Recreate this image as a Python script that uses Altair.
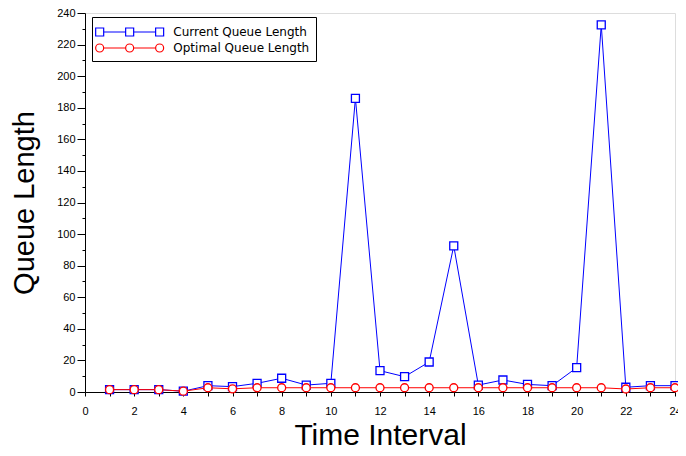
import altair as alt
import pandas as pd

time = list(range(1, 25))
current = [1.5, 1.5, 1.5, 0.5, 4, 3.4, 5.5, 8.7, 4.4, 5.5, 186, 13.5,
           9.7, 19, 92.5, 4.4, 7.6, 4.8, 4, 15.4, 232.5, 3, 4, 4]
optimal = [1.5, 1.5, 1.5, 0.5, 2.7, 2, 2.7, 2.7, 2.7, 2.7, 2.7, 2.7,
           2.7, 2.7, 2.7, 2.7, 2.7, 2.7, 2.7, 2.7, 2.7, 1.9, 2.7, 2.7]
series_names = ["Current Queue Length", "Optimal Queue Length"]
colors = ["#0000ff", "#ff0000"]

df = pd.DataFrame(
    {"t": time * 2,
     "v": current + optimal,
     "s": [series_names[0]] * 24 + [series_names[1]] * 24}
)

# legend glyphs: line with three markers (units scaled by sqrt(symbolSize)/2)
sq_path = ("M-3.11,0H-0.48M0.48,0H3.11"
           "M-4.07,-0.48H-3.11V0.48H-4.07Z"
           "M-0.48,-0.48H0.48V0.48H-0.48Z"
           "M3.11,-0.48H4.07V0.48H3.11Z")
ci_path = ("M-3.11,0H-0.48M0.48,0H3.11"
           "M-4.07,0a0.48,0.48 0 1,0 0.96,0a0.48,0.48 0 1,0 -0.96,0"
           "M-0.48,0a0.48,0.48 0 1,0 0.96,0a0.48,0.48 0 1,0 -0.96,0"
           "M3.11,0a0.48,0.48 0 1,0 0.96,0a0.48,0.48 0 1,0 -0.96,0")

xax = alt.Axis(values=list(range(0, 25)), labelExpr="datum.value % 2 === 0 ? datum.label : ''",
               title="Time Interval", grid=False, tickColor="black", domainColor="black",
               labelColor="black", labelFont="Liberation Sans", labelFontSize=11,
               titleFont="Liberation Sans", titleFontSize=30, titleFontWeight="normal",
               titlePadding=4, tickSize=4, labelPadding=9, labelFlush=False)
yax = alt.Axis(values=list(range(0, 241, 10)), labelExpr="datum.value % 20 === 0 ? datum.label : ''",
               title="Queue Length", grid=False, tickColor="black", domainColor="black",
               labelColor="black", labelFont="Liberation Sans", labelFontSize=11,
               titleFont="Liberation Sans", titleFontSize=29, titleFontWeight="normal",
               titlePadding=17,
               tickSize={"condition": {"test": "datum.value % 20 === 0", "value": 8}, "value": 3},
               labelPadding=2)

xs = alt.Scale(domain=[0, 24], nice=False)
ys = alt.Scale(domain=[0, 240], nice=False)

leg_common = dict(title=None, orient="none", legendX=7, legendY=4,
                  strokeColor="black", fillColor="white", padding=6,
                  labelFont="DejaVu Sans", labelFontSize=12,
                  labelColor="black", symbolSize=279, symbolStrokeWidth=1.2,
                  symbolFillColor="transparent", symbolOpacity=1,
                  symbolOffset=22.65, labelOffset=34.65, rowPadding=0)

base = alt.Chart(df).encode(
    x=alt.X("t:Q", scale=xs, axis=xax),
    y=alt.Y("v:Q", scale=ys, axis=yax),
)

layers = []
for name, col, shape in [(series_names[0], colors[0], "square"), (series_names[1], colors[1], "circle")]:
    d = base.transform_filter(alt.datum.s == name)
    layers.append(d.mark_line(strokeWidth=1, color=col))
    layers.append(d.mark_point(shape=shape, size=64, filled=True, fill="white",
                               stroke=col, strokeWidth=1.3, opacity=1))

legend_layer = alt.Chart(df).mark_point(opacity=0, filled=False).encode(
    x=alt.X("t:Q", scale=xs, axis=xax),
    y=alt.Y("v:Q", scale=ys, axis=yax),
    color=alt.Color("s:N", scale=alt.Scale(domain=series_names, range=colors),
                    legend=alt.Legend(**leg_common)),
    shape=alt.Shape("s:N", scale=alt.Scale(domain=series_names, range=[sq_path, ci_path]),
                    legend=alt.Legend(**leg_common)),
)

chart = alt.layer(legend_layer, *layers).properties(
    width=590, height=379,
    padding={"left": 77, "top": 5, "right": 3, "bottom": 56},
    autosize=alt.AutoSizeParams(type="none"),
).configure_view(stroke="black", strokeWidth=1).configure(background="white")

chart.save("out.html", embed_options={"renderer": "svg", "actions": False})
